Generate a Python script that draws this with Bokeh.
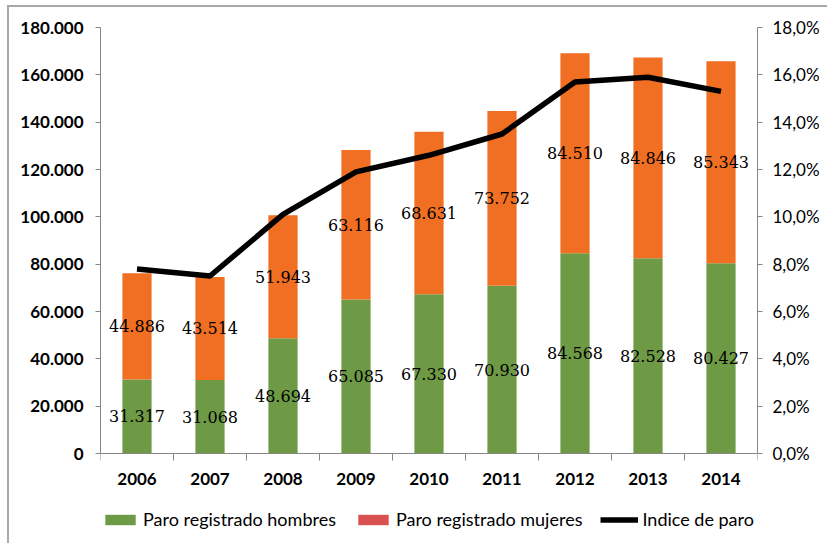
from bokeh.plotting import figure
from bokeh.models import (Range1d, LinearAxis, FixedTicker, ColumnDataSource,
                          Legend, LegendItem, Span)
from bokeh.core.properties import value
from bokeh.embed import file_html
from bokeh.resources import INLINE

years = [2006, 2007, 2008, 2009, 2010, 2011, 2012, 2013, 2014]
hombres = [31317, 31068, 48694, 65085, 67330, 70930, 84568, 82528, 80427]
mujeres = [44886, 43514, 51943, 63116, 68631, 73752, 84510, 84846, 85343]
indice = [7.8, 7.5, 10.1, 11.9, 12.6, 13.5, 15.7, 15.9, 15.3]
left_ticks = list(range(0, 180001, 20000))
right_ticks = list(range(0, 19, 2))

GREEN = "#6E9A45"
ORANGE = "#F16F22"
LEG_RED = "#D95050"
AXIS = "#868686"
FONT = "Lato"

# layout (pixels)
PLOT_H = 426          # height of the value area (0 .. max)
BELOW = 92            # room under the zero line inside the frame
YMAX, PMAX = 180000, 18
upp = YMAX / PLOT_H   # value units per pixel (left scale)

def miles(v):
    return f"{v:,}".replace(",", ".")

tops = [h + m for h, m in zip(hombres, mujeres)]
src = ColumnDataSource(dict(
    x=years, h=hombres, m=mujeres, top=tops,
    hy=[h / 2 for h in hombres],
    my=[h + m / 2 for h, m in zip(hombres, mujeres)],
    hl=[miles(h) for h in hombres],
    ml=[miles(m) for m in mujeres],
    pct=indice,
))

p = figure(width=820, height=538, output_backend="svg", toolbar_location=None,
           x_range=Range1d(years[0] - 0.5, years[-1] + 0.5),
           y_range=Range1d(-BELOW * upp, YMAX),
           x_axis_location=None, y_axis_location=None,
           min_border_left=91, min_border_right=72,
           min_border_top=20, min_border_bottom=0)
p.margin = (5, 0, 0, 7)
p.styles = {"border-left": "2px solid #A8A8A8", "border-top": "2px solid #A8A8A8"}
p.extra_y_ranges = {"pct": Range1d(-BELOW * PMAX / PLOT_H, PMAX)}
p.xgrid.visible = False
p.ygrid.visible = False
p.outline_line_color = None
p.background_fill_color = "white"
p.border_fill_color = "white"

rh = p.vbar(x="x", bottom=0, top="h", width=0.4, source=src,
            fill_color=GREEN, line_color=None)
rm = p.vbar(x="x", bottom="h", top="top", width=0.4, source=src,
            fill_color=ORANGE, line_color=None)
rl = p.line(x="x", y="pct", source=src, y_range_name="pct",
            line_color="black", line_width=5.5, line_join="round")
# zero-height proxy for the legend swatch of "mujeres" (shown reddish in source legend)
gm = p.vbar(x="x", bottom=0, top=0, width=0.4, source=src,
            fill_color=LEG_RED, line_color=None)

lab_font = value("DejaVu Serif")
p.text(x="x", y="hy", text="hl", source=src, text_font=lab_font,
       text_font_size="16px", text_align="center", text_baseline="middle",
       text_color="black")
p.text(x="x", y="my", text="ml", source=src, text_font=lab_font,
       text_font_size="16px", text_align="center", text_baseline="middle",
       text_color="black")

# category axis drawn at the zero line
p.add_layout(Span(location=0, dimension="width", line_color=AXIS, line_width=1))
bounds = [y - 0.5 for y in years] + [years[-1] + 0.5]
p.segment(x0=bounds, y0=[0] * len(bounds), x1=bounds, y1=[-7 * upp] * len(bounds),
          line_color=AXIS, line_width=1)
p.text(x=years, y=[-25 * upp] * len(years), text=[str(y) for y in years],
       text_font=value(FONT), text_font_size="17px", text_font_style="bold",
       text_align="center", text_baseline="middle", text_color="black")

yaxis = LinearAxis(
    ticker=FixedTicker(ticks=left_ticks, minor_ticks=[]), bounds=(0, YMAX),
    major_label_overrides={t: miles(t) for t in left_ticks},
    major_tick_out=5, major_tick_in=0, major_tick_line_color=AXIS,
    minor_tick_line_color=None, axis_line_color=AXIS,
    major_label_standoff=12,
    major_label_text_font=FONT, major_label_text_font_size="17px",
    major_label_text_font_style="bold", major_label_text_color="black")
p.add_layout(yaxis, "left")

raxis = LinearAxis(
    y_range_name="pct", bounds=(0, PMAX),
    ticker=FixedTicker(ticks=right_ticks, minor_ticks=[]),
    major_label_overrides={t: f"{t:.1f}%".replace(".", ",") for t in right_ticks},
    major_tick_out=5, major_tick_in=0, major_tick_line_color=AXIS,
    minor_tick_line_color=None, axis_line_color=AXIS,
    major_label_standoff=10,
    major_label_text_font=FONT, major_label_text_font_size="17px",
    major_label_text_color="black")
p.add_layout(raxis, "right")

legend = Legend(items=[
    LegendItem(label="Paro registrado hombres", renderers=[rh]),
    LegendItem(label="Paro registrado mujeres", renderers=[gm]),
    LegendItem(label="Indice de paro", renderers=[rl]),
], orientation="horizontal", location=(1, 15),
    glyph_width=38, glyph_height=13, label_standoff=4, spacing=18,
    padding=0, margin=0, border_line_color=None, background_fill_alpha=0,
    label_text_font=FONT, label_text_font_size="18px", label_text_color="black",
    label_height=20)
p.add_layout(legend, "center")

open("out.html", "w").write(file_html(p, INLINE))
